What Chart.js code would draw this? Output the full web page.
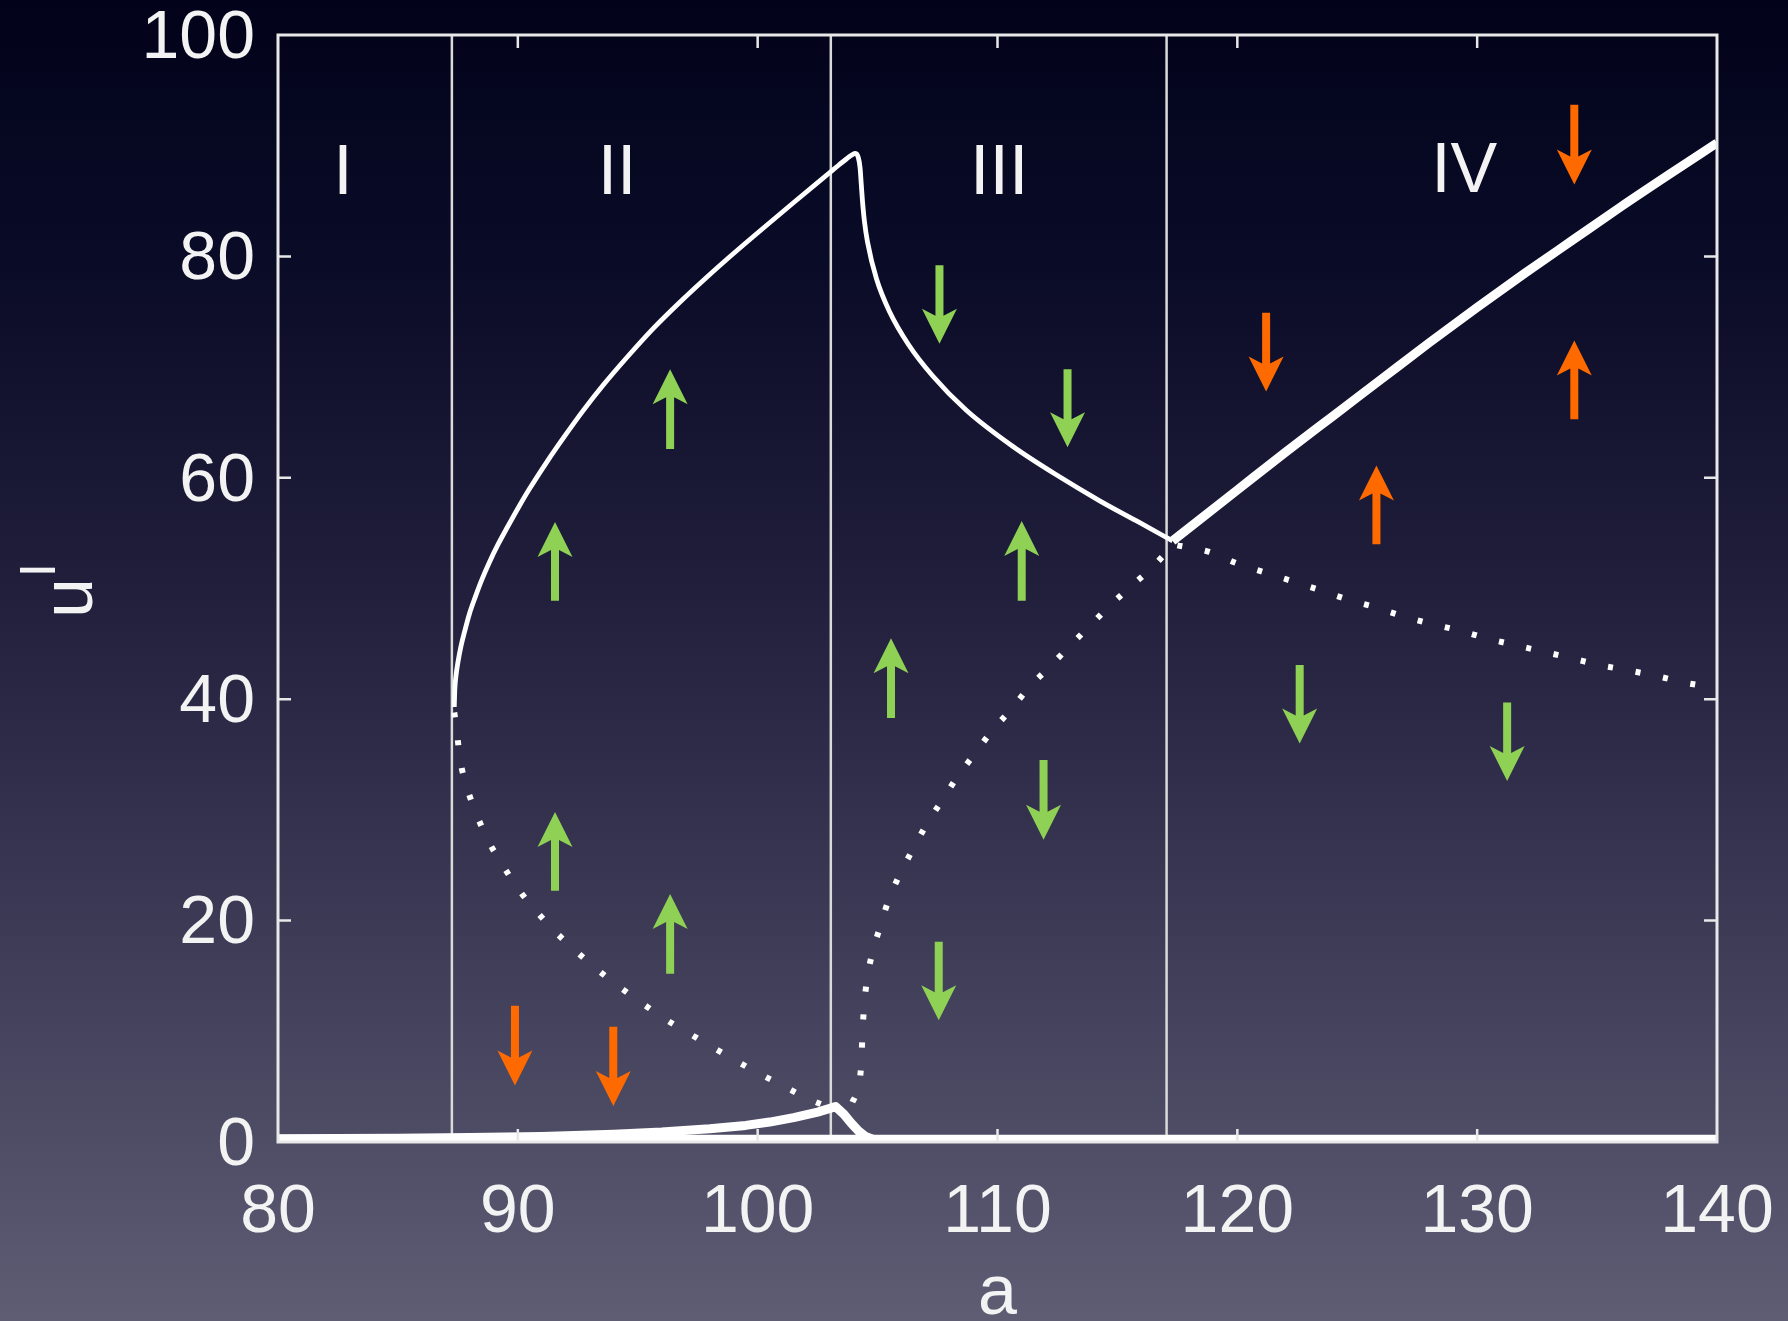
<!DOCTYPE html>
<html>
<head>
<meta charset="utf-8">
<script src="https://cdn.jsdelivr.net/npm/chart.js@4.4.1/dist/chart.umd.min.js"></script>
<style>
  html, body { margin: 0; padding: 0; background: #000; }
  canvas { display: block; }
</style>
</head>
<body>
<canvas id="chart" width="1788" height="1321"></canvas>
<script>
// ---- axis ticks ----
const xTickValues = [80, 90, 100, 110, 120, 130, 140];
const yTickValues = [0, 20, 40, 60, 80, 100];

// ---- stable branch through regions II and III (upper) ----
const stableUpperA = [87.35, 87.37, 87.42, 87.5, 87.62, 87.78, 87.98, 88.22, 88.5, 88.82, 89.18, 89.58, 90.02, 90.5, 91.2, 91.9, 92.7, 93.57, 94.6, 95.65, 96.7, 97.74, 98.8, 99.82, 101.49, 103.02, 103.4, 103.7, 103.95, 104.08, 104.2, 104.27, 104.32, 104.37, 104.45, 104.58, 104.95, 105.5, 106.3, 107.3, 108.7, 110.66, 112.5, 114.28, 115.8, 117.3];
const stableUpperU = [39.3, 40.8, 42.1, 43.3, 44.7, 46.1, 47.7, 49.2, 50.8, 52.4, 54.0, 55.6, 57.3, 59.05, 61.4, 63.6, 66.0, 68.4, 71.0, 73.5, 75.75, 77.85, 79.9, 81.8, 84.85, 87.6, 88.28, 88.8, 89.2, 89.3, 88.9, 88.0, 86.5, 85.0, 83.2, 81.3, 78.0, 75.0, 72.0, 69.2, 66.1, 62.8, 60.2, 57.9, 56.1, 54.3];

// ---- stable branch in region IV ----
const stableHighA = [117.3, 120, 122, 124, 126, 128, 130, 132, 134, 136, 138, 140];
const stableHighU = [54.3, 58.9, 62.3, 65.6, 68.9, 72.2, 75.4, 78.5, 81.5, 84.5, 87.4, 90.25];

// ---- stable branch near zero ----
const baselineA = [80, 100, 120, 140];
const baselineU = [0.15, 0.15, 0.15, 0.15];
const lowerA = [80, 85, 88, 91, 94, 96, 98, 99.5, 100.5, 101.5, 102.5, 103.25, 103.6, 103.9, 104.2, 104.5, 104.8, 105.3, 106];
const lowerU = [0.3, 0.35, 0.4, 0.5, 0.7, 0.9, 1.2, 1.5, 1.8, 2.2, 2.7, 3.2, 2.5, 1.7, 1.0, 0.5, 0.25, 0.12, 0.08];

// ---- unstable branches (dotted) ----
const unstableIIA = [87.35, 87.45, 87.59, 87.87, 88.26, 88.77, 89.4, 90.07, 90.83, 91.65, 92.55, 93.47, 94.43, 95.4, 96.44, 97.46, 98.89, 99.96, 101.04, 102.11, 102.9];
const unstableIIU = [38.8, 37.2, 34.6, 32.1, 29.7, 27.2, 24.9, 22.7, 20.7, 18.8, 17.0, 15.3, 13.7, 12.2, 10.7, 9.4, 7.6, 6.3, 5.1, 3.9, 3.2];
const unstableIIIA = [103.95, 104.13, 104.3, 104.36, 104.42, 104.55, 104.76, 105.1, 105.45, 105.89, 106.46, 107.02, 107.67, 108.3, 108.99, 109.72, 110.53, 111.33, 112.21, 113.01, 113.88, 114.71, 115.62, 116.45, 117.3];
const unstableIIIU = [3.6, 4.5, 6.5, 9.2, 11.8, 14.5, 16.9, 19.4, 21.8, 24.0, 26.4, 28.6, 30.8, 32.9, 34.9, 37.0, 39.0, 41.1, 43.0, 44.8, 46.7, 48.5, 50.3, 51.9, 53.9];
const unstableIVA = [117.5, 118.84, 119.95, 121.08, 122.24, 123.37, 124.61, 125.76, 126.9, 128.08, 129.27, 130.4, 131.56, 132.75, 133.94, 135.07, 136.31, 137.46, 138.65, 140];
const unstableIVU = [53.9, 53.3, 52.3, 51.5, 50.7, 49.9, 49.0, 48.3, 47.5, 46.8, 46.2, 45.5, 44.9, 44.3, 43.7, 43.1, 42.6, 42.1, 41.5, 41.0];

// ---- region boundaries and names ----
const dividerA = [87.25, 103.05, 117.05];
const regionNames = ['I', 'II', 'III', 'IV'];
const regionA = [82.71, 94.14, 110.07, 129.46];
const regionU = [87.4, 87.4, 87.4, 87.6];

// ---- flow-direction arrows: position, tail value, tip value, kind ----
const arrowA    = [96.35, 91.55, 91.55, 96.35, 105.56, 111.01, 107.58, 112.92, 111.92, 107.55, 122.6, 131.25, 89.88, 93.98, 121.2, 134.05, 125.8, 134.05];
const arrowFrom = [62.6, 48.9, 22.7, 15.2, 38.3, 48.9, 79.2, 69.8, 34.5, 18.1, 43.1, 39.7, 12.3, 10.4, 74.9, 93.7, 54.0, 65.3];
const arrowTo   = [69.8, 56.0, 29.8, 22.4, 45.5, 56.1, 72.1, 62.75, 27.3, 11.0, 36.0, 32.6, 5.1, 3.25, 67.8, 86.5, 61.1, 72.4];
const arrowKind = ['g', 'g', 'g', 'g', 'g', 'g', 'g', 'g', 'g', 'g', 'g', 'g', 'o', 'o', 'o', 'o', 'o', 'o'];
const arrowColors = { g: '#8fd155', o: '#ff6a00' };

const FONT = '"Liberation Sans", Arial, Helvetica, sans-serif';
const INK = '#f3f3f3';

const pts = (xs, ys) => xs.map((v, i) => ({ x: v, y: ys[i] }));

// gradient backdrop behind the whole figure
const backdrop = {
  id: 'backdrop',
  beforeDraw(chart) {
    const { ctx, width, height } = chart;
    const g = ctx.createLinearGradient(0, 0, 0, height);
    g.addColorStop(0.0, '#02031a');
    g.addColorStop(0.2, '#0a0b27');
    g.addColorStop(0.45, '#211f3c');
    g.addColorStop(0.7, '#3c3a55');
    g.addColorStop(1.0, '#5e5d74');
    ctx.save();
    ctx.fillStyle = g;
    ctx.fillRect(0, 0, width, height);
    ctx.restore();
  }
};

// vertical region boundaries
const dividers = {
  id: 'dividers',
  beforeDatasetsDraw(chart) {
    const { ctx, chartArea, scales } = chart;
    ctx.save();
    ctx.strokeStyle = '#dadada';
    ctx.lineWidth = 2.5;
    dividerA.forEach(a => {
      const px = scales.x.getPixelForValue(a);
      ctx.beginPath();
      ctx.moveTo(px, chartArea.top);
      ctx.lineTo(px, chartArea.bottom);
      ctx.stroke();
    });
    ctx.restore();
  }
};

// box frame with inward ticks, arrows, region names and y title
const overlay = {
  id: 'overlay',
  afterDatasetsDraw(chart) {
    const { ctx, chartArea: ca, scales } = chart;
    const xs = scales.x, ys = scales.y;
    ctx.save();

    // frame
    ctx.strokeStyle = '#e8e8e8';
    ctx.lineWidth = 3;
    ctx.strokeRect(ca.left, ca.top, ca.right - ca.left, ca.bottom - ca.top);
    const tl = 13;
    ctx.lineWidth = 2.5;
    ctx.beginPath();
    xTickValues.slice(1, -1).forEach(v => {
      const px = xs.getPixelForValue(v);
      ctx.moveTo(px, ca.bottom); ctx.lineTo(px, ca.bottom - tl);
      ctx.moveTo(px, ca.top); ctx.lineTo(px, ca.top + tl);
    });
    yTickValues.slice(1, -1).forEach(v => {
      const py = ys.getPixelForValue(v);
      ctx.moveTo(ca.left, py); ctx.lineTo(ca.left + tl, py);
      ctx.moveTo(ca.right, py); ctx.lineTo(ca.right - tl, py);
    });
    ctx.stroke();

    // arrows
    arrowA.forEach((a, i) => {
      const px = xs.getPixelForValue(a);
      const y0 = ys.getPixelForValue(arrowFrom[i]);
      const y1 = ys.getPixelForValue(arrowTo[i]);
      const d = Math.sign(y1 - y0);
      const hw = 17.5, sw = 4, hl = 35, notch = 28;
      ctx.fillStyle = arrowColors[arrowKind[i]];
      ctx.beginPath();
      ctx.moveTo(px, y1);
      ctx.lineTo(px + hw, y1 - d * hl);
      ctx.lineTo(px + sw, y1 - d * notch);
      ctx.lineTo(px + sw, y0);
      ctx.lineTo(px - sw, y0);
      ctx.lineTo(px - sw, y1 - d * notch);
      ctx.lineTo(px - hw, y1 - d * hl);
      ctx.closePath();
      ctx.fill();
    });

    // region names
    ctx.fillStyle = INK;
    ctx.font = '70px ' + FONT;
    ctx.textAlign = 'center';
    ctx.textBaseline = 'middle';
    regionNames.forEach((t, i) => {
      ctx.fillText(t, xs.getPixelForValue(regionA[i]), ys.getPixelForValue(regionU[i]));
    });

    // y title: u with a raised I, reading upward
    ctx.translate(92, 618);
    ctx.rotate(-Math.PI / 2);
    ctx.textBaseline = 'alphabetic';
    ctx.textAlign = 'left';
    ctx.font = '72px ' + FONT;
    ctx.fillText('u', 0, 0);
    ctx.textAlign = 'center';
    ctx.font = '50px ' + FONT;
    ctx.fillText('I', 48, -37);

    ctx.restore();
  }
};

const solid = (data, width, smooth = true) => ({
  data, borderColor: '#ffffff', borderWidth: width, pointRadius: 0,
  cubicInterpolationMode: smooth ? 'monotone' : 'default', tension: 0,
  borderCapStyle: 'butt', borderJoinStyle: 'round', fill: false
});
const dotted = (data) => ({
  data, borderColor: '#ffffff', borderWidth: 6, pointRadius: 0,
  cubicInterpolationMode: 'monotone', borderDash: [5, 23], borderCapStyle: 'butt', fill: false
});

new Chart(document.getElementById('chart'), {
  type: 'line',
  data: {
    datasets: [
      solid(pts(baselineA, baselineU), 11),
      solid(pts(lowerA, lowerU), 9, false),
      solid(pts(stableUpperA, stableUpperU), 4.8),
      solid(pts(stableHighA, stableHighU), 9),
      dotted(pts(unstableIIA, unstableIIU)),
      dotted(pts(unstableIIIA, unstableIIIU)),
      dotted(pts(unstableIVA, unstableIVU))
    ]
  },
  options: {
    responsive: false,
    devicePixelRatio: 1,
    animation: false,
    events: [],
    layout: { padding: { left: 0, top: 35, right: 71, bottom: 0 } },
    plugins: { legend: { display: false }, tooltip: { enabled: false } },
    scales: {
      x: {
        type: 'linear', min: 80, max: 140,
        afterBuildTicks: s => { s.ticks = xTickValues.map(v => ({ value: v })); },
        afterFit: s => { s.height = 179; s.paddingLeft = 0; s.paddingRight = 0; },
        grid: { display: false, drawTicks: false },
        border: { display: false },
        ticks: { color: INK, padding: 30, maxRotation: 0, font: { family: FONT, size: 68 } },
        title: { display: true, text: 'a', color: INK, padding: { top: 4, bottom: -5 }, font: { family: FONT, size: 70, lineHeight: 0.9 } }
      },
      y: {
        type: 'linear', min: 0, max: 100,
        afterBuildTicks: s => { s.ticks = yTickValues.map(v => ({ value: v })); },
        afterFit: s => { s.width = 278; s.paddingTop = 0; s.paddingBottom = 0; },
        grid: { display: false, drawTicks: false },
        border: { display: false },
        ticks: { color: INK, padding: 23, labelOffset: 4, font: { family: FONT, size: 68 } },
        title: { display: false }
      }
    }
  },
  plugins: [backdrop, dividers, overlay]
});
</script>
</body>
</html>
